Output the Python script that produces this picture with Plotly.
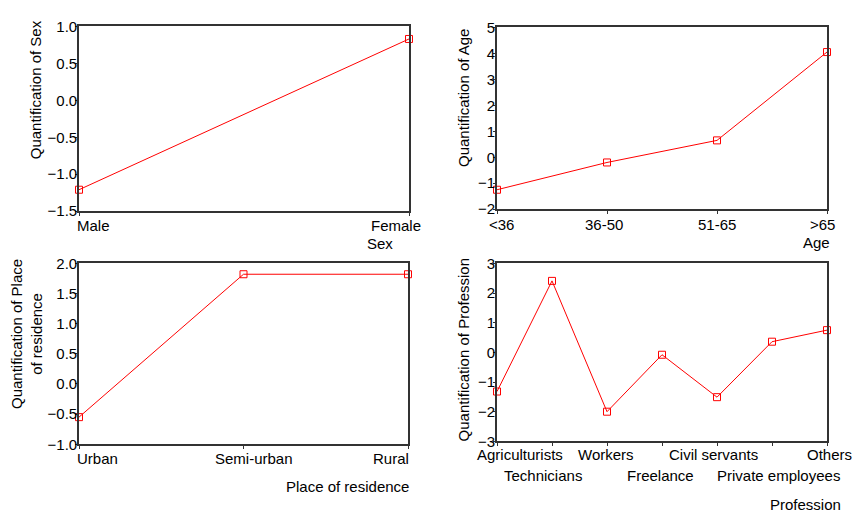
import plotly.graph_objects as go

# ---------------- data ----------------
sex_categories = ["Male", "Female"]
sex_values = [-1.21, 0.83]

age_categories = ["<36", "36-50", "51-65", ">65"]
age_values = [-1.25, -0.20, 0.65, 4.05]

residence_categories = ["Urban", "Semi-urban", "Rural"]
residence_values = [-0.55, 1.82, 1.82]

profession_categories = ["Agriculturists", "Technicians", "Workers", "Freelance",
                         "Civil servants", "Private employees", "Others"]
profession_values = [-1.32, 2.41, -2.00, -0.08, -1.51, 0.36, 0.75]

# ---------------- layout helpers ----------------
W, H = 854, 519
FONT = "Liberation Sans, Arial, Helvetica, sans-serif"
FS = 15
RED = "#ff0000"
AXC = "#333333"


def fx(p):
    return p / W


def fy(p):
    return 1 - p / H


panels = [
    dict(cats=sex_categories, vals=sex_values,
         xdom=(79, 409), ydom=(18, 209), yr=(-1.5, 1.0), dtick=0.5, fmt=".1f",
         shifts=[14, -13], rows=[0, 0], row_y=[224],
         ytitle="Quantification of Sex", ytpos=(35, 84),
         xtitle="Sex", xtpos=(380, 242)),
    dict(cats=age_categories, vals=age_values,
         xdom=(497, 827), ydom=(19, 207), yr=(-2, 5), dtick=1, fmt="d",
         shifts=[4, -3, 0, -5], rows=[0, 0, 0, 0], row_y=[223],
         ytitle="Quantification of Age", ytpos=(464, 92),
         xtitle="Age", xtpos=(816, 241)),
    dict(cats=residence_categories, vals=residence_values,
         xdom=(79, 408), ydom=(263, 450), yr=(-1.0, 2.0), dtick=0.5, fmt=".1f",
         shifts=[18, 10, -17], rows=[0, 0, 0], row_y=[465],
         ytitle="Quantification of Place<br>of residence", ytpos=(27, 336),
         xtitle="Place of residence", xtpos=(347, 494)),
    dict(cats=profession_categories, vals=profession_values,
         xdom=(497, 827), ydom=(263, 447), yr=(-3, 3), dtick=1, fmt="d",
         shifts=[23, -9, -1, -2, -4, 6, 2], rows=[0, 1, 0, 1, 0, 1, 0], row_y=[461, 482],
         ytitle="Quantification of Profession", ytpos=(463, 353),
         xtitle="Profession", xtpos=(805, 512)),
]

fig = go.Figure()
annotations = []
layout_axes = {}

for i, p in enumerate(panels, start=1):
    sfx = "" if i == 1 else str(i)
    xa, ya = "x" + sfx, "y" + sfx
    n = len(p["cats"])
    fig.add_trace(go.Scatter(
        x=list(range(n)), y=p["vals"], xaxis=xa, yaxis=ya,
        mode="lines+markers", cliponaxis=False,
        line=dict(color=RED, width=1),
        marker=dict(symbol="square-open", size=7, color=RED, line=dict(width=1, color=RED)),
        showlegend=False, hoverinfo="skip",
    ))
    layout_axes["xaxis" + sfx] = dict(
        domain=[fx(p["xdom"][0]), fx(p["xdom"][1])], anchor=ya,
        range=[0, n - 1], tickmode="array", tickvals=list(range(n)),
        showticklabels=False, ticks="outside", ticklen=3, tickwidth=1, tickcolor=AXC,
        showline=True, linecolor=AXC, linewidth=1.6, mirror=True,
        showgrid=False, zeroline=False, fixedrange=True,
    )
    layout_axes["yaxis" + sfx] = dict(
        domain=[fy(p["ydom"][1]), fy(p["ydom"][0])], anchor=xa,
        range=list(p["yr"]), dtick=p["dtick"], tick0=0, tickformat=p["fmt"],
        ticks="outside", ticklen=2, tickwidth=1, tickcolor=AXC,
        ticklabelstandoff=-5,
        tickfont=dict(family=FONT, size=FS, color="black"),
        showline=True, linecolor=AXC, linewidth=1.6, mirror=True,
        showgrid=False, zeroline=False, fixedrange=True,
    )
    for j, cat in enumerate(p["cats"]):
        annotations.append(dict(
            x=j, xref=xa, y=fy(p["row_y"][p["rows"][j]]), yref="paper",
            text=cat, showarrow=False, xanchor="center", yanchor="middle",
            xshift=p["shifts"][j], font=dict(family=FONT, size=FS, color="black"),
        ))
    annotations.append(dict(
        x=fx(p["ytpos"][0]), y=fy(p["ytpos"][1]), xref="paper", yref="paper",
        text=p["ytitle"], textangle=-90, showarrow=False, align="center",
        xanchor="center", yanchor="middle",
        font=dict(family=FONT, size=FS, color="black"),
    ))
    annotations.append(dict(
        x=fx(p["xtpos"][0]), y=fy(p["xtpos"][1]), xref="paper", yref="paper",
        text=p["xtitle"], showarrow=False, xanchor="center", yanchor="middle",
        font=dict(family=FONT, size=FS, color="black"),
    ))

fig.update_layout(
    width=W, height=H, margin=dict(l=0, r=0, t=0, b=0),
    paper_bgcolor="white", plot_bgcolor="white",
    font=dict(family=FONT, size=FS, color="black"),
    annotations=annotations, showlegend=False,
    **layout_axes,
)

fig.write_html("out.html", config={"displayModeBar": False},
               post_script="document.body.style.margin='0px';document.body.style.overflow='hidden';")
